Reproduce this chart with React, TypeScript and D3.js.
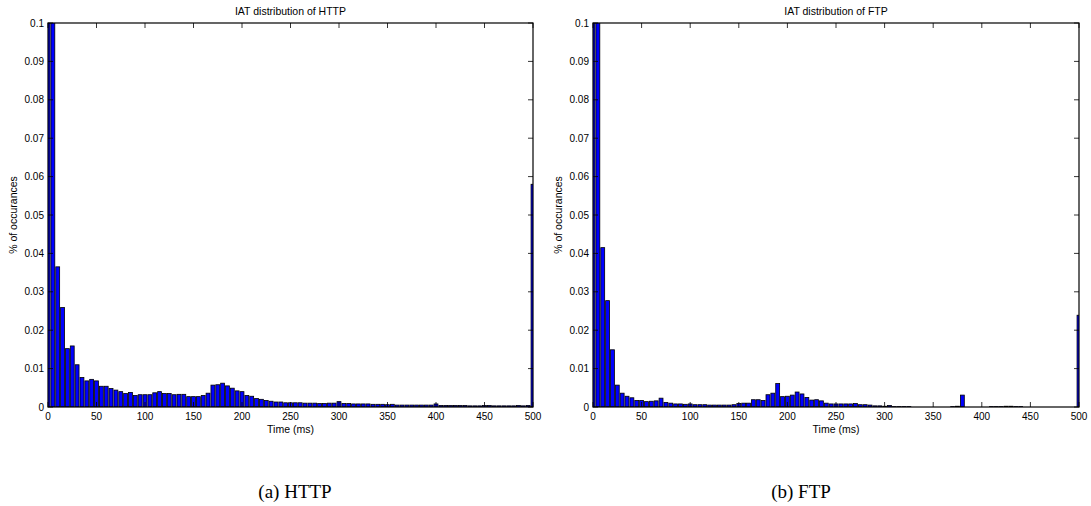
import React from "react";
import * as d3 from "d3";

// bin centres (ms)
const binCenters: number[] = d3.range(0, 505, 5);

const httpValues: number[] = [
  0.25, 0.12, 0.0365, 0.0259, 0.0152, 0.0159, 0.011, 0.0077, 0.0068, 0.0072,
  0.0068, 0.0054, 0.0054, 0.0048, 0.0044, 0.004, 0.0035, 0.0038, 0.003, 0.0032,
  0.0032, 0.0032, 0.0037, 0.004, 0.0035, 0.0035, 0.0032, 0.0033, 0.0033, 0.0027,
  0.0027, 0.0027, 0.003, 0.0036, 0.0057, 0.0058, 0.0062, 0.0055, 0.0049, 0.0042,
  0.004, 0.003, 0.0028, 0.0022, 0.002, 0.0017, 0.0015, 0.0013, 0.0013, 0.0011,
  0.0011, 0.0011, 0.0011, 0.001, 0.001, 0.001, 0.0009, 0.0009, 0.001, 0.001,
  0.0014, 0.0009, 0.0009, 0.0008, 0.0008, 0.0008, 0.0008, 0.0007, 0.0007, 0.0007,
  0.0006, 0.0007, 0.0005, 0.0005, 0.0005, 0.0005, 0.0005, 0.0005, 0.0005, 0.0005,
  0.0008, 0.0004, 0.0004, 0.0004, 0.0004, 0.0004, 0.0004, 0.0003, 0.0003, 0.0003,
  0.0004, 0.0004, 0.0003, 0.0003, 0.0003, 0.0003, 0.0003, 0.0004, 0.0003, 0.0004,
  0.058,
];

const ftpValues: number[] = [
  0.3, 0.15, 0.0415, 0.0277, 0.0149, 0.0057, 0.0036, 0.0028, 0.0024, 0.0017,
  0.0017, 0.0014, 0.0015, 0.0016, 0.0023, 0.0012, 0.001, 0.0008, 0.0008, 0.0007,
  0.0008, 0.0006, 0.0006, 0.0006, 0.0005, 0.0005, 0.0005, 0.0005, 0.0005, 0.0006,
  0.0009, 0.001, 0.001, 0.0019, 0.0019, 0.0017, 0.0032, 0.0036, 0.0061, 0.0027,
  0.0028, 0.0031, 0.0039, 0.0034, 0.0025, 0.0018, 0.0019, 0.0016, 0.001, 0.0008,
  0.0008, 0.0008, 0.0008, 0.0008, 0.0009, 0.0006, 0.0006, 0.0005, 0.0003, 0.0003,
  0.0002, 0.0004, 0.0001, 0.0001, 0.0001, 0.0001, 0, 0, 0, 0,
  0, 0, 0, 0, 0.0001, 0.0002, 0.0031, 0, 0, 0,
  0, 0, 0.0001, 0.0001, 0.0001, 0.0002, 0.0002, 0.0001, 0.0001, 0,
  0, 0, 0, 0, 0, 0, 0, 0, 0, 0,
  0.0239,
];

const xTicks: number[] = [0, 50, 100, 150, 200, 250, 300, 350, 400, 450, 500];
const yTicks: number[] = [0, 0.01, 0.02, 0.03, 0.04, 0.05, 0.06, 0.07, 0.08, 0.09, 0.1];
const yTickLabels: string[] = ["0", "0.01", "0.02", "0.03", "0.04", "0.05", "0.06", "0.07", "0.08", "0.09", "0.1"];

const titles: string[] = ["IAT distribution of HTTP", "IAT distribution of FTP"];
const captions: string[] = ["(a) HTTP", "(b) FTP"];
const xLabel = "Time (ms)";
const yLabel = "% of occurances";

const SANS = "'Liberation Sans', Arial, Helvetica, sans-serif";
const SERIF = "'Liberation Serif', 'DejaVu Serif', serif";

interface PanelProps {
  id: string;
  x0: number;
  x1: number;
  values: number[];
  title: string;
  caption: string;
  captionX: number;
}

const Y0 = 23;
const Y1 = 407;
const BIN = 5;
const BAR_FRAC = 0.8;
const TICK = 5;

function Panel({ id, x0, x1, values, title, caption, captionX }: PanelProps) {
  const x = d3.scaleLinear().domain([0, 500]).range([x0, x1]);
  const y = d3.scaleLinear().domain([0, 0.1]).range([Y1, Y0]);
  const bw = x(BIN * BAR_FRAC) - x(0);
  const cx = (x0 + x1) / 2;
  return (
    <g>
      <defs>
        <clipPath id={id}>
          <rect x={x0} y={Y0} width={x1 - x0} height={Y1 - Y0} />
        </clipPath>
      </defs>
      <rect x={x0} y={Y0} width={x1 - x0} height={Y1 - Y0} fill="#fff" />
      <g clipPath={`url(#${id})`}>
        {binCenters.map((c, i) => {
          const v = values[i];
          const top = y(Math.min(v, 0.2));
          return (
            <rect
              key={i}
              x={x(c) - bw / 2}
              y={top}
              width={bw}
              height={Y1 - top}
              fill="#0000ff"
              stroke="#000"
              strokeWidth={0.8}
            />
          );
        })}
      </g>
      {xTicks.map((t) => (
        <g key={"xt" + t}>
          <line x1={x(t)} x2={x(t)} y1={Y1} y2={Y1 - TICK} stroke="#000" strokeWidth={0.8} />
          <line x1={x(t)} x2={x(t)} y1={Y0} y2={Y0 + TICK} stroke="#000" strokeWidth={0.8} />
          <text x={x(t)} y={Y1 + 13} textAnchor="middle" fontSize={10} fontFamily={SANS} fill="#000">
            {t}
          </text>
        </g>
      ))}
      {yTicks.map((t, i) => (
        <g key={"yt" + t}>
          <line x1={x0} x2={x0 + TICK} y1={y(t)} y2={y(t)} stroke="#000" strokeWidth={0.8} />
          <line x1={x1} x2={x1 - TICK} y1={y(t)} y2={y(t)} stroke="#000" strokeWidth={0.8} />
          <text x={x0 - 4} y={y(t) + 3.5} textAnchor="end" fontSize={10} fontFamily={SANS} fill="#000">
            {yTickLabels[i]}
          </text>
        </g>
      ))}
      <rect x={x0} y={Y0} width={x1 - x0} height={Y1 - Y0} fill="none" stroke="#000" strokeWidth={1.2} />
      <text x={cx} y={15} textAnchor="middle" fontSize={10.5} fontFamily={SANS} fill="#000">
        {title}
      </text>
      <text x={cx} y={433} textAnchor="middle" fontSize={10.5} fontFamily={SANS} fill="#000">
        {xLabel}
      </text>
      <text
        transform={`translate(${x0 - 31},${(Y0 + Y1) / 2}) rotate(-90)`}
        textAnchor="middle"
        fontSize={10.5}
        fontFamily={SANS}
        fill="#000"
      >
        {yLabel}
      </text>
      <text x={captionX} y={498} textAnchor="middle" fontSize={19} fontFamily={SERIF} fill="#000">
        {caption}
      </text>
    </g>
  );
}

export default function App() {
  return (
    <svg
      width={1091}
      height={506}
      style={{ position: "absolute", left: 0, top: 0, background: "#fff" }}
    >
      <rect x={0} y={0} width={1091} height={506} fill="#fff" />
      <Panel id="clipA" x0={48} x1={533} values={httpValues} title={titles[0]} caption={captions[0]} captionX={295} />
      <Panel id="clipB" x0={593} x1={1079} values={ftpValues} title={titles[1]} caption={captions[1]} captionX={801} />
    </svg>
  );
}
